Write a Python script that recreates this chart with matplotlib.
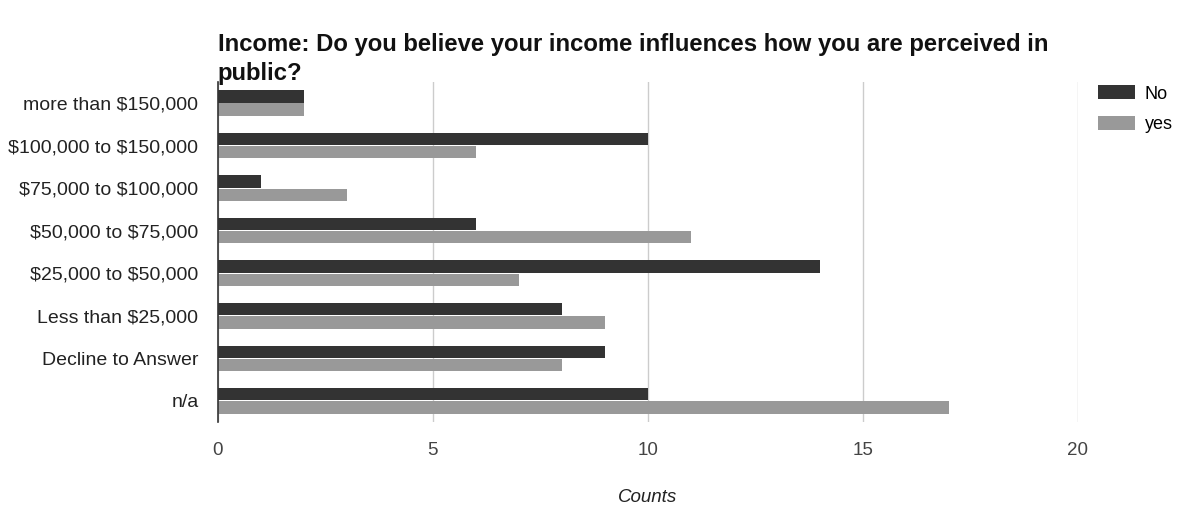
import matplotlib.pyplot as plt
import numpy as np

plt.rcParams['font.family'] = ['Liberation Sans', 'DejaVu Sans']
plt.rcParams['text.parse_math'] = False

categories = ['more than $150,000', '$100,000 to $150,000', '$75,000 to $100,000',
              '$50,000 to $75,000', '$25,000 to $50,000', 'Less than $25,000',
              'Decline to Answer', 'n/a']
no_counts = [2, 10, 1, 6, 14, 8, 9, 10]
yes_counts = [2, 6, 3, 11, 7, 9, 8, 17]
xticks = [0, 5, 10, 15, 20]

fig = plt.figure(figsize=(11.78, 5.08), dpi=100)
ax = fig.add_axes([0.185, 0.169, 0.730, 0.670])

y = np.arange(len(categories))
h = 0.29
ax.barh(y - h / 2 - 0.01, no_counts, height=h, color='#333333', label='No', zorder=3)
ax.barh(y + h / 2 + 0.01, yes_counts, height=h, color='#999999', label='yes', zorder=3)

ax.set_ylim(len(categories) - 0.5, -0.5)
ax.set_xlim(0, 20)
ax.set_yticks(y)
ax.set_yticklabels(categories, fontsize=14, color='#222222')
ax.set_xticks(xticks)
ax.set_xticklabels([str(t) for t in xticks], fontsize=13.5, color='#444444')
ax.tick_params(length=0)
ax.tick_params(axis='x', pad=14)
ax.tick_params(axis='y', pad=14)
ax.grid(axis='x', color='#cccccc', linewidth=1, zorder=0)
for s in ['top', 'right', 'bottom']:
    ax.spines[s].set_visible(False)
ax.spines['left'].set_color('#333333')
ax.spines['left'].set_linewidth(1.2)
ax.spines['left'].set_zorder(4)

ax.set_xlabel('Counts', fontsize=13.5, style='italic', color='#222222', labelpad=22)

fig.text(0.185, 0.935, 'Income: Do you believe your income influences how you are perceived in\npublic?',
         fontsize=17.2, fontweight='bold', color='#111111', va='top', ha='left', linespacing=1.35)

fig.legend(loc='upper left', bbox_to_anchor=(0.932, 0.832), frameon=False, fontsize=13,
           borderaxespad=0, borderpad=0, handlelength=2.05, handleheight=0.8,
           handletextpad=0.55, labelspacing=0.75)

fig.savefig('out.png', dpi=100)
